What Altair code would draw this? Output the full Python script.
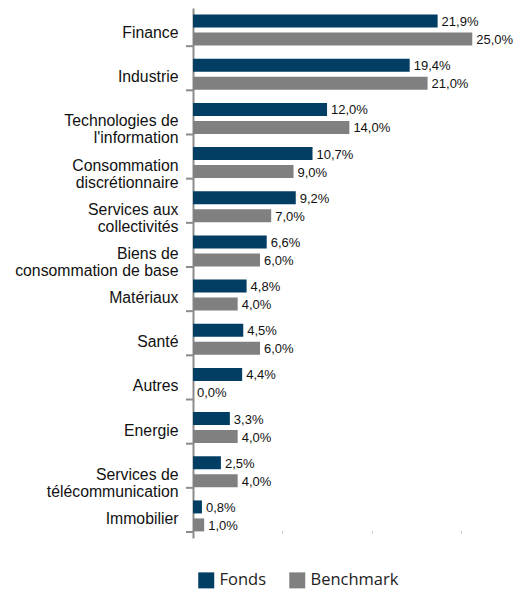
import altair as alt
import pandas as pd

categories = ["Finance", "Industrie", "Technologies de\nl'information", "Consommation\ndiscrétionnaire",
              "Services aux\ncollectivités", "Biens de\nconsommation de base", "Matériaux", "Santé",
              "Autres", "Energie", "Services de\ntélécommunication", "Immobilier"]
fonds = [21.9, 19.4, 12.0, 10.7, 9.2, 6.6, 4.8, 4.5, 4.4, 3.3, 2.5, 0.8]
benchmark = [25.0, 21.0, 14.0, 9.0, 7.0, 6.0, 4.0, 6.0, 0.0, 4.0, 4.0, 1.0]
series = ["Fonds", "Benchmark"]
colors = ["#023d63", "#808080"]

rows = []
for c, f, b in zip(categories, fonds, benchmark):
    rows.append({"cat": c, "series": "Fonds", "value": f})
    rows.append({"cat": c, "series": "Benchmark", "value": b})
df = pd.DataFrame(rows)

W = 318
H = 530
XMAX = W / 11.17

y_enc = alt.Y("cat:N", sort=categories, title=None,
              scale=alt.Scale(paddingInner=0, paddingOuter=0),
              axis=alt.Axis(domainColor="#8c8c8c", domainWidth=2, ticks=False,
                            labelFont="Liberation Sans", labelFontSize=15.8, labelColor="#111111",
                            labelPadding=15, labelOffset=3, labelLineHeight=17,
                            labelExpr="split(datum.label, '\\n')", labelLimit=250))
yoff = alt.YOffset("series:N", sort=series,
                   scale=alt.Scale(paddingInner=0.278, paddingOuter=0.367))
x_enc = alt.X("value:Q", title=None,
              scale=alt.Scale(domain=[0, XMAX], nice=False, zero=True),
              axis=alt.Axis(values=[8, 16, 24], labels=False, domain=False, grid=False,
                            tickSize=2, tickColor="#bbbbbb", tickWidth=1, offset=-7))

base = alt.Chart(df)

bars = base.mark_bar(cornerRadius=0).encode(
    y=y_enc, yOffset=yoff, x=x_enc,
    color=alt.Color("series:N", sort=series,
                    scale=alt.Scale(domain=series, range=colors),
                    legend=alt.Legend(title=None, orient="none", legendX=5, legendY=564,
                                      direction="horizontal", symbolType="square",
                                      symbolSize=256, symbolStrokeWidth=0,
                                      labelFont="Open Sans", labelFontSize=16.5,
                                      labelColor="#222222", labelOffset=5,
                                      columnPadding=22)),
)

labels = base.mark_text(align="left", baseline="middle", dx=4, dy=1,
                        font="Liberation Sans", fontSize=13, color="#111111").transform_calculate(
    lab="replace(format(datum.value, '.1f'), '.', ',') + '%'"
).encode(
    y=alt.Y("cat:N", sort=categories), yOffset=alt.YOffset("series:N", sort=series),
    x=alt.X("value:Q"), text="lab:N",
)

ticks = alt.Chart(pd.DataFrame({"cat": categories})).mark_rule(
    color="#8c8c8c", strokeWidth=2, yOffset=-6
).encode(
    y=alt.Y("cat:N", sort=categories, bandPosition=1),
    x=alt.value(-7), x2=alt.value(0),
)

chart = alt.layer(bars, labels, ticks).properties(
    width=W, height=H,
    autosize=alt.AutoSizeParams(type="none"),
    padding={"left": 185, "top": 0, "right": 2, "bottom": 53},
).configure_view(stroke=None)

chart.save("out.html", embed_options={"renderer": "svg", "actions": False})
